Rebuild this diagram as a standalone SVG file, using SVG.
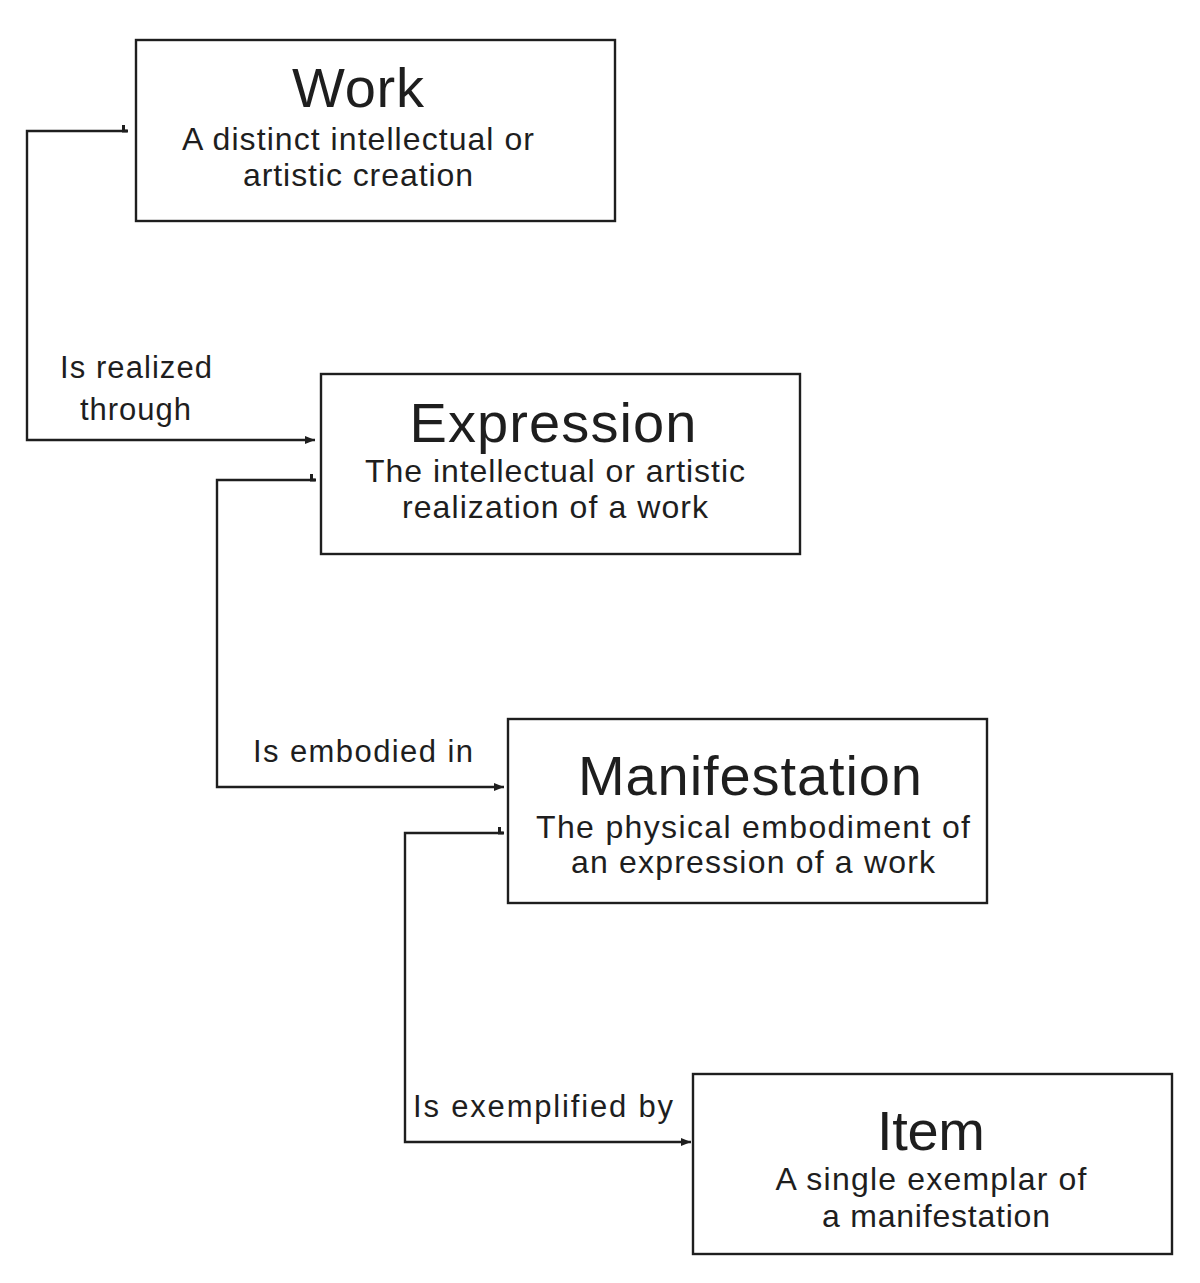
<svg xmlns="http://www.w3.org/2000/svg" width="1200" height="1283" viewBox="0 0 1200 1283">
<style>
.box{fill:#fff;stroke:#1e1e1e;stroke-width:2.4}
.title{font-family:"Liberation Sans",Arial,sans-serif;font-size:56px;fill:#1e1e1e;text-anchor:middle}
.desc{font-family:"Liberation Sans",Arial,sans-serif;font-size:32px;fill:#1e1e1e;text-anchor:middle}
.lbl{font-family:"Liberation Sans",Arial,sans-serif;font-size:31px;fill:#1e1e1e}
.conn{fill:none;stroke:#1e1e1e;stroke-width:2.4}
</style>
<defs>
<marker id="ah" viewBox="0 0 10 8" refX="10" refY="4" markerWidth="10" markerHeight="8" markerUnits="userSpaceOnUse" orient="auto">
<path d="M0,0 L10,4 L0,8 Z" fill="#1e1e1e"/>
</marker>
<marker id="st" viewBox="0 0 6 8" refX="1" refY="1.5" markerWidth="6" markerHeight="8" markerUnits="userSpaceOnUse" orient="auto">
<path d="M0,0 H6 V8 H3 V3 H0 Z" fill="#1e1e1e"/>
</marker>
</defs>
<rect width="1200" height="1283" fill="#fff"/>
<g id="connectors">
<path class="conn" d="M127,131 H27 V440 H315" marker-start="url(#st)" marker-end="url(#ah)"/>
<path class="conn" d="M315,480 H217 V787 H504" marker-start="url(#st)" marker-end="url(#ah)"/>
<path class="conn" d="M503,833 H405 V1142 H691" marker-start="url(#st)" marker-end="url(#ah)"/>
<text class="lbl" x="60" y="378" textLength="152" lengthAdjust="spacing">Is realized</text>
<text class="lbl" x="80" y="420" textLength="111" lengthAdjust="spacing">through</text>
<text class="lbl" x="253" y="762" textLength="220" lengthAdjust="spacing">Is embodied in</text>
<text class="lbl" x="413" y="1117" textLength="260" lengthAdjust="spacing">Is exemplified by</text>
</g>
<g id="work">
<rect class="box" x="136" y="40" width="479" height="181"/>
<text class="title" x="358" y="107" textLength="132" lengthAdjust="spacing">Work</text>
<text class="desc" x="358" y="150" textLength="352" lengthAdjust="spacing">A distinct intellectual or</text>
<text class="desc" x="358" y="186" textLength="230" lengthAdjust="spacing">artistic creation</text>
</g>
<g id="expression">
<rect class="box" x="321" y="374" width="479" height="180"/>
<text class="title" x="553" y="442" textLength="287" lengthAdjust="spacing">Expression</text>
<text class="desc" x="555" y="482" textLength="380" lengthAdjust="spacing">The intellectual or artistic</text>
<text class="desc" x="555" y="518" textLength="306" lengthAdjust="spacing">realization of a work</text>
</g>
<g id="manifestation">
<rect class="box" x="508" y="719" width="479" height="184"/>
<text class="title" x="750" y="795" textLength="344" lengthAdjust="spacing">Manifestation</text>
<text class="desc" x="753" y="838" textLength="434" lengthAdjust="spacing">The physical embodiment of</text>
<text class="desc" x="753" y="873" textLength="364" lengthAdjust="spacing">an expression of a work</text>
</g>
<g id="item">
<rect class="box" x="693" y="1074" width="479" height="180"/>
<text class="title" x="931" y="1150" textLength="108" lengthAdjust="spacing">Item</text>
<text class="desc" x="931" y="1190" textLength="311" lengthAdjust="spacing">A single exemplar of</text>
<text class="desc" x="936" y="1227" textLength="228" lengthAdjust="spacing">a manifestation</text>
</g>
</svg>
